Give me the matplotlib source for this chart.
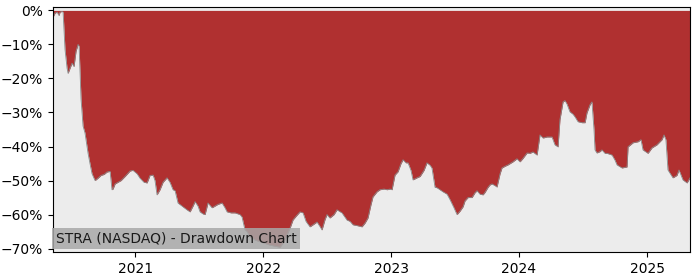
import numpy as np
import pandas as pd
import matplotlib
matplotlib.use("Agg")
import matplotlib.pyplot as plt
import matplotlib.dates as mdates
from matplotlib.ticker import PercentFormatter

# decimal year of each reading
anos = np.array([
    2020.359, 2020.375, 2020.391, 2020.406, 2020.414, 2020.430, 2020.438, 2020.453,
    2020.469, 2020.477, 2020.492, 2020.508, 2020.523, 2020.539, 2020.555, 2020.563,
    2020.570, 2020.578, 2020.594, 2020.609, 2020.633, 2020.648, 2020.664, 2020.688,
    2020.711, 2020.734, 2020.758, 2020.781, 2020.805, 2020.820, 2020.828, 2020.844,
    2020.867, 2020.891, 2020.922, 2020.961, 2020.984, 2021.016, 2021.039, 2021.070,
    2021.094, 2021.117, 2021.141, 2021.156, 2021.172, 2021.195, 2021.219, 2021.250,
    2021.273, 2021.297, 2021.313, 2021.336, 2021.367, 2021.406, 2021.430, 2021.453,
    2021.469, 2021.492, 2021.508, 2021.531, 2021.547, 2021.570, 2021.602, 2021.625,
    2021.648, 2021.680, 2021.703, 2021.719, 2021.750, 2021.781, 2021.820, 2021.836,
    2021.859, 2021.875, 2021.898, 2021.938, 2021.977, 2022.016, 2022.055, 2022.094,
    2022.133, 2022.164, 2022.188, 2022.211, 2022.234, 2022.258, 2022.289, 2022.313,
    2022.336, 2022.367, 2022.391, 2022.422, 2022.445, 2022.461, 2022.484, 2022.500,
    2022.523, 2022.555, 2022.578, 2022.617, 2022.656, 2022.680, 2022.703, 2022.742,
    2022.773, 2022.797, 2022.820, 2022.844, 2022.859, 2022.891, 2022.914, 2022.945,
    2022.969, 2022.992, 2023.008, 2023.031, 2023.055, 2023.078, 2023.094, 2023.117,
    2023.133, 2023.156, 2023.172, 2023.203, 2023.227, 2023.258, 2023.281, 2023.305,
    2023.320, 2023.344, 2023.359, 2023.406, 2023.438, 2023.461, 2023.492, 2023.516,
    2023.539, 2023.563, 2023.578, 2023.602, 2023.633, 2023.656, 2023.672, 2023.695,
    2023.719, 2023.734, 2023.758, 2023.773, 2023.789, 2023.813, 2023.828, 2023.852,
    2023.867, 2023.891, 2023.914, 2023.953, 2023.984, 2024.008, 2024.031, 2024.063,
    2024.086, 2024.109, 2024.141, 2024.164, 2024.188, 2024.219, 2024.258, 2024.281,
    2024.305, 2024.320, 2024.344, 2024.359, 2024.375, 2024.398, 2024.422, 2024.438,
    2024.461, 2024.492, 2024.516, 2024.531, 2024.555, 2024.570, 2024.586, 2024.594,
    2024.609, 2024.633, 2024.648, 2024.672, 2024.688, 2024.727, 2024.750, 2024.766,
    2024.805, 2024.844, 2024.852, 2024.891, 2024.930, 2024.953, 2024.969, 2025.008,
    2025.039, 2025.078, 2025.117, 2025.133, 2025.148, 2025.164, 2025.203, 2025.234,
    2025.250, 2025.281, 2025.313, 2025.336,
])

# drawdown em %
drawdown = np.array([
    -2.0, -0.8, -0.5, -1.5, -0.5, -0.3, -0.5, -11.5,
    -17.0, -18.5, -17.0, -15.5, -16.5, -12.0, -10.0, -10.5,
    -18.0, -26.0, -34.0, -36.0, -42.0, -45.0, -48.0, -50.0,
    -49.3, -48.5, -48.2, -47.5, -47.3, -52.7, -52.5, -51.0,
    -50.5, -50.0, -48.8, -47.2, -47.0, -48.0, -49.3, -50.5,
    -50.7, -48.5, -48.4, -50.0, -54.2, -52.7, -50.5, -49.2,
    -50.5, -52.7, -53.0, -56.6, -57.5, -58.6, -59.2, -57.5,
    -56.2, -57.5, -59.2, -59.8, -60.0, -56.6, -58.0, -57.5,
    -57.0, -56.6, -58.0, -59.2, -59.5, -59.5, -60.0, -60.7,
    -64.5, -65.0, -66.6, -67.5, -68.0, -68.5, -69.0, -69.3,
    -69.6, -68.0, -66.0, -64.0, -61.6, -60.5, -59.2, -59.5,
    -62.0, -63.6, -63.0, -62.2, -63.5, -64.5, -61.5, -60.0,
    -61.0, -60.0, -58.6, -59.5, -61.6, -62.0, -63.0, -63.3,
    -63.6, -62.5, -61.0, -57.0, -54.8, -53.3, -52.7, -52.5,
    -52.7, -52.5, -52.7, -48.4, -47.4, -45.0, -43.9, -44.8,
    -44.8, -47.0, -49.8, -49.2, -48.8, -47.0, -44.8, -45.5,
    -46.3, -52.0, -52.1, -53.3, -54.0, -55.6, -58.0, -60.0,
    -59.0, -57.7, -56.0, -55.0, -55.0, -53.6, -53.0, -54.0,
    -54.2, -53.5, -52.0, -51.3, -51.0, -51.5, -51.9, -48.0,
    -46.3, -45.8, -45.4, -44.5, -43.6, -44.5, -43.5, -41.9,
    -42.0, -41.6, -42.5, -36.6, -37.5, -37.2, -37.2, -39.5,
    -40.1, -32.1, -26.9, -26.5, -27.5, -29.8, -30.5, -31.3,
    -32.7, -33.0, -33.0, -30.1, -27.7, -26.9, -35.0, -41.0,
    -41.9, -41.5, -41.0, -42.0, -42.0, -42.5, -44.0, -45.4,
    -46.3, -46.0, -40.1, -38.9, -38.6, -38.0, -41.0, -42.0,
    -40.4, -39.5, -38.0, -36.6, -38.0, -46.9, -49.2, -48.5,
    -46.9, -49.8, -50.7, -49.2,
])

titulo = "STRA (NASDAQ) - Drawdown Chart"

# converte ano decimal para datas
datas = pd.Timestamp("2020-01-01") + pd.to_timedelta((anos - 2020) * 365.25, unit="D")

fig = plt.figure(figsize=(7, 2.8), dpi=100)
ax = fig.add_axes([0.0757, 0.1, 0.91, 0.875])
ax.set_facecolor("#ececec")

ax.fill_between(datas, drawdown, 0, color="#b03030", linewidth=0)
ax.plot(datas, drawdown, color="#8a8a8a", linewidth=0.6)

ax.set_xlim(datas[0], datas[-1])
ax.set_ylim(-71, 1)
ax.yaxis.set_major_locator(plt.MultipleLocator(10))
ax.yaxis.set_major_formatter(PercentFormatter(decimals=0))
ax.xaxis.set_major_locator(mdates.YearLocator())
ax.xaxis.set_major_formatter(mdates.DateFormatter("%Y"))

ax.text(0.004, 0.025, titulo, transform=ax.transAxes, fontsize=10,
        color="#1a1a1a", va="bottom", ha="left",
        bbox=dict(facecolor="#a8a8a8", edgecolor="none", alpha=0.85, pad=2.5))

fig.savefig("out.png", dpi=100)
